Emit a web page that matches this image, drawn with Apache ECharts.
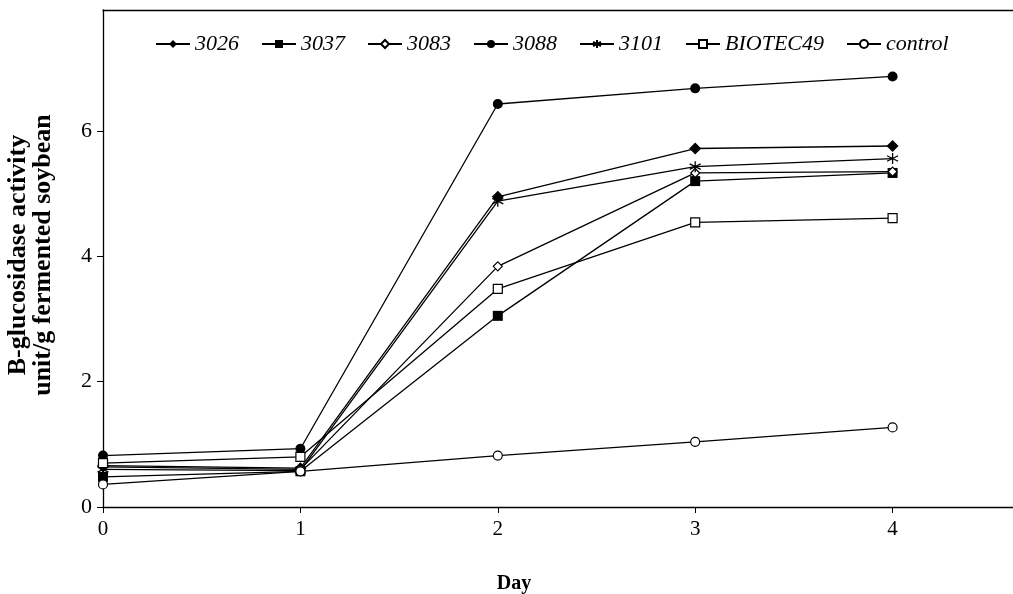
<!DOCTYPE html>
<html>
<head>
<meta charset="utf-8">
<script src="https://cdn.jsdelivr.net/npm/echarts@6/dist/echarts.min.js"></script>
<style>
  html, body { margin: 0; padding: 0; background: #fff; }
  #chart { width: 1013px; height: 594px; }
</style>
</head>
<body>
<div id="chart"></div>
<script>
// Fermentation day
const days = [0, 1, 2, 3, 4];
const xTicks = ['0', '1', '2', '3', '4'];
const yTicks = [0, 2, 4, 6];

// B-glucosidase activity (unit/g fermented soybean) per strain
const s3026 = [0.66, 0.62, 4.95, 5.72, 5.76];
const s3037 = [0.48, 0.57, 3.05, 5.20, 5.33];
const s3083 = [0.64, 0.60, 3.84, 5.33, 5.35];
const s3088 = [0.82, 0.93, 6.43, 6.68, 6.87];
const s3101 = [0.60, 0.58, 4.88, 5.43, 5.56];
const sBiotec49 = [0.70, 0.80, 3.48, 4.54, 4.61];
const sControl = [0.36, 0.57, 0.82, 1.04, 1.27];

const FONT = '"Liberation Serif", "Times New Roman", serif';
const asterisk = 'path://M0,-5L0,5M-4.33,-2.5L4.33,2.5M-4.33,2.5L4.33,-2.5';

function pairs(vals) {
  return days.map((d, i) => [d, vals[i]]);
}

function line(name, vals, symbol, size, filled) {
  return {
    name: name,
    type: 'line',
    data: pairs(vals),
    symbol: symbol,
    symbolSize: size,
    showAllSymbol: true,
    lineStyle: { color: '#000', width: 1.3 },
    itemStyle: {
      color: filled ? '#000' : '#fff',
      borderColor: '#000',
      borderWidth: filled ? 0 : 1.2
    },
    emphasis: { disabled: true },
    z: 3
  };
}

const chart = echarts.init(document.getElementById('chart'), null, { renderer: 'canvas' });

chart.setOption({
  animation: false,
  backgroundColor: '#fff',
  grid: { left: 103, right: 0, top: 10, bottom: 87 },
  legend: {
    left: 150,
    top: 28,
    itemGap: 22,
    itemWidth: 34,
    itemHeight: 10,
    textStyle: { fontFamily: FONT, fontSize: 22, fontStyle: 'italic', color: '#000' },
    data: ['3026', '3037', '3083', '3088', '3101', 'BIOTEC49', 'control']
  },
  xAxis: [{
    type: 'value',
    min: 0,
    max: 4.61,
    interval: 1,
    axisLine: { lineStyle: { color: '#000', width: 1.3 } },
    axisTick: { show: true, length: 6, inside: false, lineStyle: { color: '#000' } },
    axisLabel: {
      fontFamily: FONT, fontSize: 21, color: '#000', margin: 12,
      showMaxLabel: false,
      formatter: v => (Number.isInteger(v) && v < xTicks.length ? xTicks[v] : '')
    },
    splitLine: { show: false }
  }, {
    type: 'value',
    position: 'top',
    min: 0,
    max: 4.61,
    axisLine: { show: true, lineStyle: { color: '#000', width: 1.3 } },
    axisTick: { show: false },
    axisLabel: { show: false },
    splitLine: { show: false }
  }],
  yAxis: {
    type: 'value',
    min: 0,
    max: 7.93,
    interval: 2,
    axisLine: { show: true, lineStyle: { color: '#000', width: 1.3 } },
    axisTick: {
      show: true, length: 6, lineStyle: { color: '#000' },
      customValues: yTicks
    },
    axisLabel: {
      fontFamily: FONT, fontSize: 22, color: '#000', margin: 11,
      customValues: yTicks
    },
    splitLine: { show: false }
  },
  graphic: [{
    type: 'text',
    x: 31,
    y: 255,
    rotation: Math.PI / 2,
    style: {
      text: 'B-glucosidase activity\nunit/g fermented soybean',
      fontFamily: FONT,
      fontSize: 26,
      fontWeight: 'bold',
      lineHeight: 25,
      fill: '#000',
      align: 'center',
      verticalAlign: 'middle'
    }
  }, {
    type: 'text',
    x: 514,
    y: 584,
    style: {
      text: 'Day',
      fontFamily: FONT,
      fontSize: 20,
      fontWeight: 'bold',
      fill: '#000',
      align: 'center',
      verticalAlign: 'middle'
    }
  }],
  series: [
    line('3026', s3026, 'diamond', 12, true),
    line('3037', s3037, 'rect', 10, true),
    line('3083', s3083, 'diamond', 9, false),
    line('3088', s3088, 'circle', 10, true),
    Object.assign(line('3101', s3101, asterisk, 11, false), {
      itemStyle: { color: 'none', borderColor: '#000', borderWidth: 1.3 }
    }),
    line('BIOTEC49', sBiotec49, 'rect', 9, false),
    line('control', sControl, 'circle', 9, false)
  ]
});
</script>
</body>
</html>
